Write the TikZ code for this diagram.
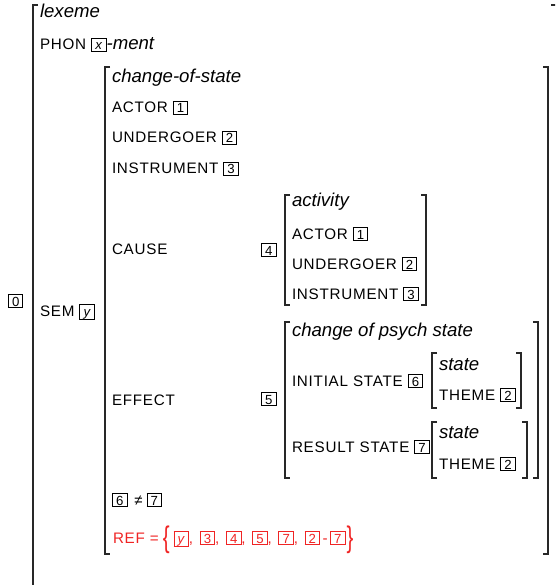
\documentclass[tikz,border=0pt]{standalone}
\usepackage{fontspec}
\setmainfont{Liberation Sans}
\newfontfamily\attrfam[LetterSpace=5]{Liberation Sans}
\newcommand\myattr{\attrfam\fontsize{15.2}{15.2}\selectfont}
\newcommand\myval{\rmfamily\fontsize{18.6}{18.6}\selectfont\itshape}
\newcommand\mytag[1]{{\rmfamily\upshape\fontsize{13.2}{13.2}\selectfont\setlength\fboxsep{0pt}\setlength\fboxrule{0.9pt}\fbox{\makebox[13.6pt]{\rule[-1.4pt]{0pt}{12.6pt}#1}}}}
\newcommand\mybrace[1]{{\rmfamily\upshape\fontsize{17}{17}\selectfont\raisebox{-4.5pt}{\scalebox{1.2}[1.75]{#1}}}}
\definecolor{refred}{RGB}{240,36,36}
\definecolor{brkcol}{RGB}{40,40,40}
\newcommand\mylb[3]{\draw[brk] (#1+5,#2) -- (#1,#2) -- (#1,#3) -- (#1+5,#3);}
\newcommand\myrb[3]{\draw[brk] (#1-5,#2) -- (#1,#2) -- (#1,#3) -- (#1-5,#3);}
\newcommand\cm{,\hspace{6.6pt}}
\begin{document}
\begin{tikzpicture}[x=1pt,y=-1pt,
  brk/.style={line width=1.3pt,draw=brkcol,line cap=butt,line join=miter},
  row/.style={anchor=base west,inner sep=0pt,outer sep=0pt,font=\myattr},
  val/.style={row,font=\myval}]
\useasboundingbox (0,0) rectangle (555,585);
\fill[white] (0,0) rectangle (555,585);
\clip (0,0) rectangle (555,585);
% outer matrix
\mylb{33}{5}{600}
\draw[brk] (551,5) -- (559,5) -- (559,600);
\node[row] (t0) at (8,306) {\mytag{0}};
\node[val] (lex) at (40,18) {lexeme};
\node[row] (phon) at (40,50) {PHON \mytag{\textit{x}}{\myval-ment}};
\node[row] (sem) at (40,316) {SEM \mytag{\textit{y}}};
% SEM matrix
\mylb{105}{67}{554}
\myrb{548}{67}{554}
\node[val] (cos) at (112,83) {change-of-state};
\node[row] (actor) at (112,113) {ACTOR \mytag{1}};
\node[row] (und) at (112,143) {UNDERGOER \mytag{2}};
\node[row] (instr) at (112,174) {INSTRUMENT \mytag{3}};
\node[row] (cause) at (112,254) {CAUSE};
\node[row] (t4) at (261,255) {\mytag{4}};
% activity
\mylb{285}{195}{305}
\myrb{426}{195}{305}
\node[val] (act) at (292,207) {activity};
\node[row] (actor2) at (292,239) {ACTOR \mytag{1}};
\node[row] (und2) at (292,269) {UNDERGOER \mytag{2}};
\node[row] (instr2) at (292,299) {INSTRUMENT \mytag{3}};
% effect
\node[row] (effect) at (112,405) {EFFECT};
\node[row] (t5) at (261,404) {\mytag{5}};
\mylb{285}{322}{478}
\myrb{538}{322}{478}
\node[val] (psych) at (292,336) {change of psych state};
\node[row] (init) at (292,386) {INITIAL STATE \mytag{6}};
\mylb{432}{353}{408}
\myrb{521}{353}{408}
\node[val] (st1) at (439,370) {state};
\node[row] (th1) at (439,400) {THEME \mytag{2}};
\node[row] (res) at (292,452) {RESULT STATE \mytag{7}};
\mylb{432}{422}{478}
\myrb{527}{422}{478}
\node[val] (st2) at (439,438) {state};
\node[row] (th2) at (439,469) {THEME \mytag{2}};
% constraints
\node[row,font=\rmfamily\fontsize{15}{15}\selectfont] (neq) at (112,505) {\mytag{6}\hspace{7pt}≠\hspace{4pt}\mytag{7}};
\node[row,text=refred] (ref) at (113,543) {REF =\hspace{4pt}\mybrace{\{}\hspace{4pt}\mytag{\textit{y}}\cm\mytag{3}\cm\mytag{4}\cm\mytag{5}\cm\mytag{7}\cm\mytag{2}\hspace{2.5pt}-\hspace{2.5pt}\mytag{7}\hspace{1pt}\mybrace{\}}};
\end{tikzpicture}
\end{document}
